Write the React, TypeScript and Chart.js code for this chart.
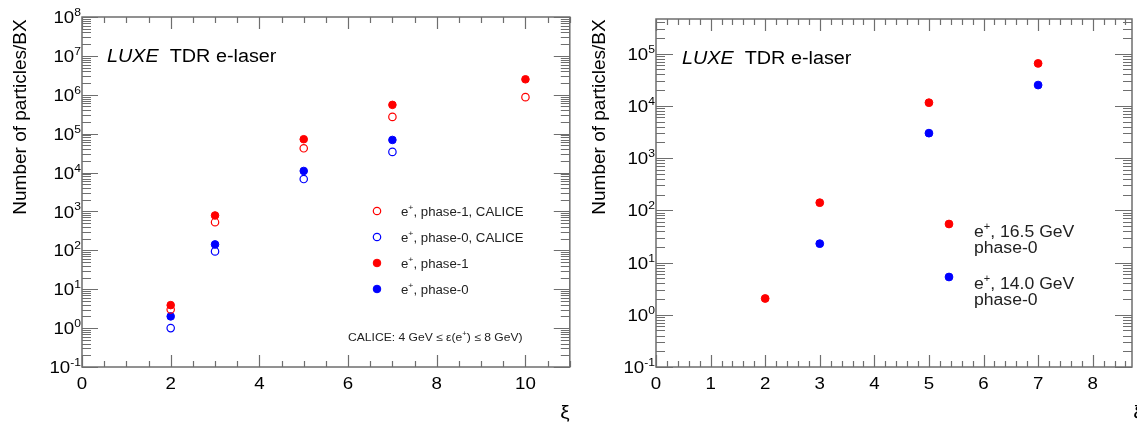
import React, { useEffect, useRef } from "react";
import { Chart, registerables } from "chart.js";

Chart.register(...registerables);

// ---------------- data: left panel ----------------
const leftXiAll = [2, 3, 5, 7, 10];
const leftXiPhase0 = [2, 3, 5, 7];
const leftPhase1Calice = [3.0, 530, 42000, 270000, 870000];
const leftPhase0Calice = [1.0, 94, 6800, 34000];
const leftPhase1 = [3.9, 790, 72000, 550000, 2500000];
const leftPhase0 = [2.0, 142, 11000, 69000];
const leftLegendLabels = [
  "e^{+}, phase-1, CALICE",
  "e^{+}, phase-0, CALICE",
  "e^{+}, phase-1",
  "e^{+}, phase-0",
];
const leftXTicks = [0, 2, 4, 6, 8, 10];
const leftYExponents = [-1, 0, 1, 2, 3, 4, 5, 6, 7, 8];
const leftNote = "CALICE: 4 GeV \u2264 \u03b5(e^{+}) \u2264 8 GeV)";

// ---------------- data: right panel ----------------
const rightXi165 = [2, 3, 5, 7];
const right165 = [2.05, 140, 11500, 65000];
const rightXi140 = [3, 5, 7];
const right140 = [23, 3000, 25000];
const rightLegendLines = [
  ["e^{+}, 16.5 GeV", "phase-0"],
  ["e^{+}, 14.0 GeV", "phase-0"],
];
const rightXTicks = [0, 1, 2, 3, 4, 5, 6, 7, 8];
const rightYExponents = [-1, 0, 1, 2, 3, 4, 5];

// ---------------- shared texts ----------------
const yTitle = "Number of particles/BX";
const xTitle = "\u03be";
const headerItalic = "LUXE";
const headerRest = "TDR e-laser";

const FONT = "'Liberation Sans', Arial, sans-serif";
const TEXT_SX = 1.1;
const FRAME = "#6e6e6e";
const INK = "#000000";
const RED = "#ff0000";
const BLUE = "#0000ff";

const pts = (xs: number[], ys: number[]) => xs.map((x, i) => ({ x, y: ys[i] }));

function parseRich(s: string) {
  const out: { t: string; sup?: boolean }[] = [];
  const re = /\^\{([^}]*)\}/g;
  let last = 0;
  let m: RegExpExecArray | null;
  while ((m = re.exec(s))) {
    if (m.index > last) out.push({ t: s.slice(last, m.index) });
    out.push({ t: m[1], sup: true });
    last = re.lastIndex;
  }
  if (last < s.length) out.push({ t: s.slice(last) });
  return out;
}

function drawRich(
  ctx: CanvasRenderingContext2D,
  s: string,
  x: number,
  y: number,
  size: number,
  align: "left" | "right" | "center",
  opts: { italic?: boolean; sx?: number; color?: string; supSize?: number } = {}
) {
  const italic = opts.italic ?? false;
  const sx = opts.sx ?? TEXT_SX;
  const supSize = opts.supSize ?? Math.round(size * 0.65);
  const segs = parseRich(s);
  const fontOf = (sup?: boolean) => `${italic ? "italic " : ""}${sup ? supSize : size}px ${FONT}`;
  let w = 0;
  const widths = segs.map((sg) => {
    ctx.font = fontOf(sg.sup);
    const mw = ctx.measureText(sg.t).width;
    w += mw;
    return mw;
  });
  ctx.save();
  ctx.fillStyle = opts.color ?? INK;
  ctx.translate(x, y);
  ctx.scale(sx, 1);
  let cx = align === "left" ? 0 : align === "right" ? -w : -w / 2;
  ctx.textAlign = "left";
  ctx.textBaseline = "alphabetic";
  segs.forEach((sg, i) => {
    ctx.font = fontOf(sg.sup);
    ctx.fillText(sg.t, cx, sg.sup ? -size * 0.42 : 0);
    cx += widths[i];
  });
  ctx.restore();
  return w * sx;
}

function drawMarker(ctx: CanvasRenderingContext2D, ds: any, x: number, y: number) {
  ctx.save();
  ctx.beginPath();
  ctx.arc(x, y, ds.pointRadius, 0, Math.PI * 2);
  if (ds.backgroundColor && ds.backgroundColor !== "rgba(0,0,0,0)") {
    ctx.fillStyle = ds.backgroundColor;
    ctx.fill();
  }
  ctx.lineWidth = ds.borderWidth;
  ctx.strokeStyle = ds.borderColor;
  ctx.stroke();
  ctx.restore();
}

function rootPlugin(cfg: any) {
  return {
    id: "rootStyle",
    beforeDatasetsDraw(chart: any) {
      const { ctx, chartArea: a, scales } = chart;
      const xs = scales.x;
      const ys = scales.y;
      ctx.save();
      ctx.strokeStyle = FRAME;
      ctx.lineWidth = 1.5;
      ctx.strokeRect(a.left, a.top, a.right - a.left, a.bottom - a.top);
      ctx.lineWidth = 1.2;
      ctx.beginPath();
      const n = Math.round((cfg.xMax - cfg.xMin) / cfg.xMinor) + 1;
      for (let i = 0; i <= n; i++) {
        const v = cfg.xMin + i * cfg.xMinor;
        if (v > cfg.xMax + 1e-9) break;
        const px = Math.round(xs.getPixelForValue(v)) + 0.5;
        const r = v / cfg.xMajor;
        const major = Math.abs(r - Math.round(r)) < 1e-6;
        const len = major ? cfg.xMajorLen : cfg.xMinorLen;
        ctx.moveTo(px, a.bottom);
        ctx.lineTo(px, a.bottom - len);
        ctx.moveTo(px, a.top);
        ctx.lineTo(px, a.top + len);
      }
      const e0 = Math.floor(Math.log10(cfg.yMin));
      const e1 = Math.ceil(Math.log10(cfg.yMax));
      for (let e = e0; e <= e1; e++) {
        for (let m = 1; m <= 9; m++) {
          const v = m * Math.pow(10, e);
          if (v < cfg.yMin * 0.999 || v > cfg.yMax * 1.001) continue;
          const py = Math.round(ys.getPixelForValue(v)) + 0.5;
          const len = m === 1 ? cfg.yMajorLen : cfg.yMinorLen;
          ctx.moveTo(a.left, py);
          ctx.lineTo(a.left + len, py);
          ctx.moveTo(a.right, py);
          ctx.lineTo(a.right - len, py);
        }
      }
      ctx.stroke();
      ctx.restore();
    },
    afterDraw(chart: any) {
      const { ctx, chartArea: a, scales } = chart;
      ctx.save();
      for (const e of cfg.yExps) {
        const py = scales.y.getPixelForValue(Math.pow(10, e));
        drawRich(ctx, `10^{${e}}`, a.left - 1, py + cfg.tickFont * 0.36, cfg.tickFont, "right", {
          supSize: cfg.supFont,
        });
      }
      for (const v of cfg.xTicks) {
        const px = scales.x.getPixelForValue(v);
        drawRich(ctx, String(v), px, cfg.xLabelBaseline, cfg.tickFont, "center");
      }
      ctx.save();
      ctx.translate(cfg.yTitleX, cfg.yTitleY);
      ctx.rotate(-Math.PI / 2);
      drawRich(ctx, yTitle, 0, cfg.titleFont * 0.36, cfg.titleFont, "center", { sx: 1 });
      ctx.restore();
      drawRich(ctx, xTitle, cfg.xTitleX, cfg.xTitleBaseline, cfg.titleFont, "center");
      const w = drawRich(ctx, headerItalic, cfg.headerX, cfg.headerBaseline, cfg.headerFont, "left", {
        italic: true,
      });
      drawRich(ctx, headerRest, cfg.headerX + w + cfg.headerGap, cfg.headerBaseline, cfg.headerFont, "left");
      cfg.extras(chart);
      ctx.restore();
    },
  };
}

const open = (c: string) => ({
  backgroundColor: "rgba(0,0,0,0)",
  borderColor: c,
  borderWidth: 1.2,
  pointRadius: 3.7,
});
const filled = (c: string) => ({
  backgroundColor: c,
  borderColor: c,
  borderWidth: 1,
  pointRadius: 3.8,
});

const leftCfg = {
  left: 0,
  width: 575,
  padding: { left: 82, top: 17, right: 5, bottom: 60 },
  xMin: 0,
  xMax: 11,
  xMajor: 2,
  xMinor: 0.5,
  yMin: 0.1,
  yMax: 1e8,
  xMajorLen: 12,
  xMinorLen: 6,
  yMajorLen: 16,
  yMinorLen: 9,
  yExps: leftYExponents,
  xTicks: leftXTicks,
  tickFont: 17,
  supFont: 11,
  xLabelBaseline: 389,
  titleFont: 19,
  yTitleX: 19,
  yTitleY: 117,
  xTitleX: 565,
  xTitleBaseline: 418,
  headerX: 107,
  headerBaseline: 62,
  headerFont: 18,
  headerGap: 11,
  datasets: [
    { label: leftLegendLabels[0], data: pts(leftXiAll, leftPhase1Calice), ...open(RED) },
    { label: leftLegendLabels[1], data: pts(leftXiPhase0, leftPhase0Calice), ...open(BLUE) },
    { label: leftLegendLabels[2], data: pts(leftXiAll, leftPhase1), ...filled(RED) },
    { label: leftLegendLabels[3], data: pts(leftXiPhase0, leftPhase0), ...filled(BLUE) },
  ],
  extras(chart: any) {
    const ctx = chart.ctx;
    const rows = [211, 237, 263, 289];
    chart.data.datasets.forEach((ds: any, i: number) => {
      drawMarker(ctx, ds, 377, rows[i]);
      drawRich(ctx, leftLegendLabels[i], 401, rows[i] + 4.5, 12, "left", { color: "#222" });
    });
    drawRich(ctx, leftNote, 348, 341, 11, "left", { color: "#222" });
  },
};

const rightCfg = {
  left: 575,
  width: 562,
  padding: { left: 81, top: 19, right: 1, bottom: 60 },
  xMin: 0,
  xMax: 8.72,
  xMajor: 1,
  xMinor: 0.2,
  yMin: 0.1,
  yMax: 4.6e5,
  xMajorLen: 12,
  xMinorLen: 6,
  yMajorLen: 17,
  yMinorLen: 9,
  yExps: rightYExponents,
  xTicks: rightXTicks,
  tickFont: 17,
  supFont: 11,
  xLabelBaseline: 389,
  titleFont: 19,
  yTitleX: 23,
  yTitleY: 117,
  xTitleX: 563,
  xTitleBaseline: 418,
  headerX: 107,
  headerBaseline: 64,
  headerFont: 18,
  headerGap: 11,
  datasets: [
    { label: rightLegendLines[0].join(" "), data: pts(rightXi165, right165), ...filled(RED), pointRadius: 3.9 },
    { label: rightLegendLines[1].join(" "), data: pts(rightXi140, right140), ...filled(BLUE), pointRadius: 3.9 },
  ],
  extras(chart: any) {
    const ctx = chart.ctx;
    const markerY = [224, 277];
    const lineBase = [
      [237, 253],
      [289, 305],
    ];
    chart.data.datasets.forEach((ds: any, i: number) => {
      drawMarker(ctx, ds, 374, markerY[i]);
      rightLegendLines[i].forEach((line, j) => {
        drawRich(ctx, line, 399, lineBase[i][j], 16, "left", { color: "#222" });
      });
    });
  },
};

function Panel({ cfg }: { cfg: any }) {
  const ref = useRef<HTMLCanvasElement>(null);
  useEffect(() => {
    const chart = new Chart(ref.current as HTMLCanvasElement, {
      type: "scatter",
      data: { datasets: cfg.datasets },
      options: {
        animation: false,
        responsive: false,
        events: [],
        layout: { padding: cfg.padding },
        plugins: { legend: { display: false }, tooltip: { enabled: false } },
        scales: {
          x: { type: "linear", display: false, min: cfg.xMin, max: cfg.xMax },
          y: { type: "logarithmic", display: false, min: cfg.yMin, max: cfg.yMax },
        },
      },
      plugins: [rootPlugin(cfg)],
    } as any);
    return () => chart.destroy();
  }, [cfg]);
  return (
    <canvas
      ref={ref}
      width={cfg.width}
      height={427}
      style={{ position: "absolute", left: cfg.left, top: 0, width: cfg.width, height: 427 }}
    />
  );
}

export default function App() {
  return (
    <div
      style={{
        position: "fixed",
        left: 0,
        top: 0,
        width: 1137,
        height: 427,
        background: "#ffffff",
        overflow: "hidden",
      }}
    >
      <Panel cfg={leftCfg} />
      <Panel cfg={rightCfg} />
    </div>
  );
}
